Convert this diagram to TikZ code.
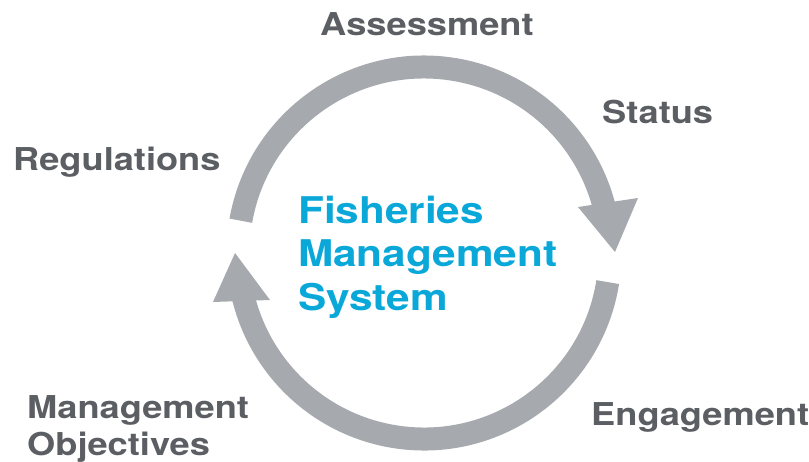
\documentclass[tikz,border=0pt]{standalone}
\usepackage{fontspec}
\setmainfont{TeX Gyre Heros}[FakeStretch=1.15]
\definecolor{arrowgray}{HTML}{A6AAAF}
\definecolor{labelgray}{HTML}{5B5E62}
\definecolor{fmsblue}{HTML}{0AA7D9}
\begin{document}
\begin{tikzpicture}[x=1pt,y=1pt,
  band/.style={draw=arrowgray, line width=23pt, line cap=butt},
  head/.style={fill=arrowgray},
  lbl/.style={text=labelgray, font=\fontsize{31.5}{37}\selectfont\bfseries, inner sep=0pt, anchor=base west, align=left},
  ctr/.style={text=fmsblue, font=\fontsize{36.8}{43.5}\selectfont\bfseries, inner sep=0pt, anchor=base west, align=left}]
\useasboundingbox (0,0) rectangle (809,-461);
\coordinate (c) at (424,-253);
% upper arc: Regulations -> Assessment -> Status
\draw[band] (c) ++(170:186) arc[start angle=170, end angle=13, radius=186];
\fill[head] (578,-207) -- (638,-198) -- (615,-252) -- cycle;
% lower arc: Engagement -> Management Objectives
\draw[band] (c) ++(-9:186) arc[start angle=-9, end angle=-167, radius=186];
\fill[head] (213,-302) -- (270,-300) -- (235,-253) -- cycle;
\node[lbl] (assess) at (320,-35) {Assessment};
\node[lbl] (status) at (602,-123) {Status};
\node[lbl] (reg) at (13,-170) {Regulations};
\node[lbl] (mo) at (27,-455) {Management\\Objectives};
\node[lbl] (eng) at (591,-425) {Engagement};
\node[ctr] (fms) at (298,-310) {Fisheries\\Management\\System};
\end{tikzpicture}
\end{document}
